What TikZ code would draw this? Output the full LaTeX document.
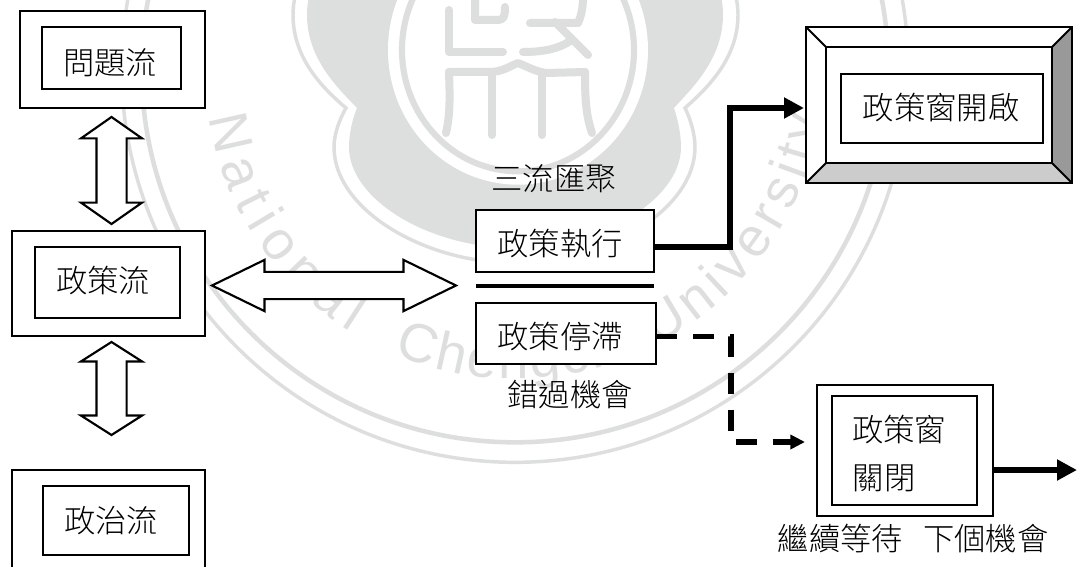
\documentclass[tikz,border=0pt]{standalone}
\usepackage{fontspec}
\usetikzlibrary{arrows.meta,shapes.arrows,decorations.text}
\newfontfamily\cjk{Noto Sans CJK TC Light}
\newfontfamily\wmfont{Liberation Sans}
\definecolor{wm}{HTML}{DDDFDF}
\tikzset{
  boxa/.style={draw=black,line width=1.6pt,fill=white,inner sep=0pt,outer sep=0pt},
  lbl/.style={inner sep=0pt,outer sep=0pt,font=\cjk\fontsize{23.5}{28}\selectfont},
  dbl/.style={double arrow,draw=black,fill=white,line width=1.6pt,inner xsep=0pt,outer sep=0pt},
  heavy/.style={line width=5pt,-{Triangle[length=15pt,width=15pt]}},
  brokenline/.style={line width=3.8pt,dash pattern=on 15.75pt off 12pt,-{Triangle[length=11pt,width=10.5pt]}},
  wmstroke/.style={draw=wm,line width=6pt,line cap=round,line join=round},
  wmline/.style={draw=wm,line width=2.6pt},
  wmtext/.style={decorate,decoration={text along path,text align=fit to path,text={|\wmfont\fontsize{41}{41}\selectfont\color{wm}|#1}}},
}
\newcommand{\pxbox}[6][]{\node[boxa,#1,minimum width={(#5-#3)*0.75pt},minimum height={(#6-#4)*0.75pt}] (#2) at ({(#3+#5)/2},{(#4+#6)/2}) {};}
\begin{document}
\begin{tikzpicture}[x=0.75pt,y=-0.75pt]
\clip (0,0) rectangle (1077,567);
\fill[white] (0,0) rectangle (1077,567);
% watermark
\draw[wm,line width=2.6pt] (515,69) circle[radius=295pt];
\draw[wm,line width=3.4pt] (515,69) circle[radius=280pt];
\fill[wm] (357,108) .. controls (340,90) and (307,60) .. (307,15) .. controls (307,-30) and (340,-60) .. (400,-60) -- (640,-60) .. controls (690,-60) and (723,-30) .. (723,15) .. controls (723,60) and (690,90) .. (674,108) .. controls (678,120) and (681,135) .. (681,147) .. controls (681,200) and (600,248) .. (515,248) .. controls (430,248) and (349,200) .. (349,147) .. controls (349,135) and (352,120) .. (357,108) -- cycle;
\draw[wmline] (346,108) .. controls (325,90) and (293,60) .. (293,15) .. controls (293,-30) and (330,-70) .. (400,-70) -- (640,-70) .. controls (700,-70) and (738,-30) .. (738,15) .. controls (738,60) and (705,90) .. (685,108) .. controls (691,120) and (695,135) .. (695,147) .. controls (695,210) and (605,263) .. (515,263) .. controls (425,263) and (334,210) .. (334,147) .. controls (334,135) and (339,120) .. (346,108) -- cycle;
\fill[white] (518,50) ellipse[x radius=97.5pt,y radius=101pt];
\draw[wm,line width=4.6pt] (518,50) ellipse[x radius=87pt,y radius=91pt];
\draw[wmstroke] (449,10) -- (449,52) -- (503,52);
\draw[wmstroke] (475,-4) -- (475,20) -- (498,20) .. controls (504,20) and (505,16) .. (505,7);
\draw[wmstroke] (530,23) -- (578,23) .. controls (582,14) and (583,6) .. (583,-4);
\draw[wmstroke] (525,-4) -- (590,-4);
\draw[wmstroke] (555,22) -- (588,55);
\draw[wmstroke] (523,52) .. controls (545,52) and (560,48) .. (570,41);
\draw[wmstroke] (449,72) -- (490,72) .. controls (502,72) and (510,66) .. (518,63) .. controls (526,66) and (536,72) .. (547,73) -- (585,72);
\draw[wmstroke] (449,72) .. controls (450,100) and (450,115) .. (446,133);
\draw[wmstroke] (585,72) .. controls (585,100) and (586,115) .. (592,133);
\draw[wmstroke] (492,76) -- (492,135);
\draw[wmstroke] (542,76) -- (542,135);
\path[wmtext={National}] (515,69) ++(189:232.5pt) arc[start angle=189,end angle=238,radius=232.5pt];
\path[wmtext={Chengchi}] (515,69) ++(247:232.5pt) arc[start angle=247,end angle=293,radius=232.5pt];
\path[wmtext={University}] (515,69) ++(297:232.5pt) arc[start angle=297,end angle=351,radius=232.5pt];
% left column
\pxbox{probO}{20}{11}{205}{108}
\pxbox{probI}{42}{27}{181}{89}
\node[lbl] (probT) at (110,63) {問題流};
\pxbox{polO}{12}{231}{205}{336}
\pxbox{polI}{35}{247}{180}{318}
\node[lbl] (polT) at (103,281) {政策流};
\pxbox{polsO}{12}{470}{205}{590}
\pxbox{polsI}{43}{486}{189}{555}
\node[lbl] (polsT) at (111,521) {政治流};
\node[dbl,rotate=90,inner ysep=10.5pt,minimum height=80.25pt,minimum width=44.25pt,double arrow head extend=11.6pt,double arrow tip angle=110] (a1) at (111.5,170.5) {};
\node[dbl,rotate=90,inner ysep=10.5pt,minimum height=69.75pt,minimum width=44.25pt,double arrow head extend=11.6pt,double arrow tip angle=115] (a2) at (111.5,388.5) {};
\node[dbl,inner ysep=9.4pt,minimum height=183pt,minimum width=36.75pt,double arrow head extend=9pt,double arrow tip angle=52] (a3) at (334,285.5) {};
% middle
\node[lbl] (conv) at (554,179) {三流匯聚};
\pxbox{exec}{476}{210}{654}{272}
\node[lbl] (execT) at (560,244) {政策執行};
\coordinate (sepL) at (476,286);
\coordinate (sepR) at (654,286);
\draw[line width=2.6pt] (sepL) -- (sepR);
\pxbox{stall}{476}{303}{656}{364}
\node[lbl] (stallT) at (560,337) {政策停滯};
\node[lbl] (miss) at (570,395) {錯過機會};
% open window
\pxbox{open}{806}{27}{1072}{183}
\pxbox{bevel}{826}{47}{1052}{163}
\fill[black!40] (open.north east) -- (open.south east) -- (bevel.south east) -- (bevel.north east) -- cycle;
\fill[black!20] (open.south west) -- (open.south east) -- (bevel.south east) -- (bevel.south west) -- cycle;
\draw[line width=1.6pt,line join=miter] (open.north west) rectangle (open.south east);
\draw[line width=1.6pt] (bevel.north west) rectangle (bevel.south east);
\foreach \c in {north west,north east,south west,south east} \draw[line width=1.4pt] (open.\c) -- (bevel.\c);
\pxbox{openI}{841}{74}{1043}{143}
\node[lbl] (openT) at (941,108) {政策窗開啟};
% closed window
\pxbox{closeO}{817}{385}{993}{516}
\pxbox{closeI}{832}{396}{977}{505}
\node[lbl] (closeA) at (899,430) {政策窗};
\node[lbl] (closeB) at (884,478) {關閉};
\node[lbl] (wait) at (913,539) {繼續等待\hspace{15pt}下個機會};
% connectors
\coordinate (execOut) at ([yshift=-4.5pt]exec.east);
\coordinate (openIn) at ([xshift=-1.5pt,yshift=-2.25pt]open.west);
\draw[heavy] (execOut) -| (730,108) -- (openIn);
\coordinate (stallOut) at ([yshift=-2.25pt]stall.east);
\coordinate (closeIn) at (805,442);
\draw[brokenline] (stallOut) -| (731,442) -- (closeIn);
\coordinate (closeOut) at ([yshift=-0.75pt]closeO.east);
\coordinate (freeEnd) at (1077,470);
\draw[heavy] (closeOut |- freeEnd) -- (freeEnd);
\end{tikzpicture}
\end{document}
